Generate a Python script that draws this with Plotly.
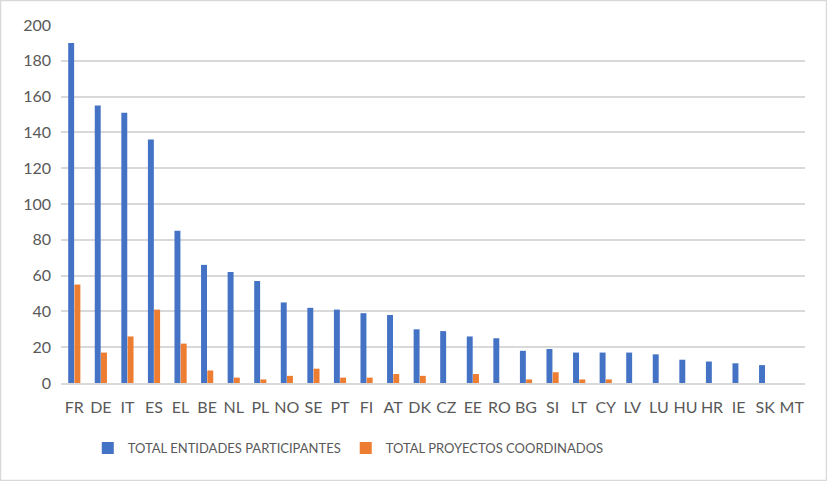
import plotly.graph_objects as go

countries = ["FR", "DE", "IT", "ES", "EL", "BE", "NL", "PL", "NO", "SE", "PT", "FI", "AT", "DK",
             "CZ", "EE", "RO", "BG", "SI", "LT", "CY", "LV", "LU", "HU", "HR", "IE", "SK", "MT"]
entidades = [190, 155, 151, 136, 85, 66, 62, 57, 45, 42, 41, 39, 38, 30,
             29, 26, 25, 18, 19, 17, 17, 17, 16, 13, 12, 11, 10, 0]
proyectos = [55, 17, 26, 41, 22, 7, 3, 2, 4, 8, 3, 3, 5, 4,
             0, 5, 0, 2, 6, 2, 2, 0, 0, 0, 0, 0, 0, 0]

W, H = 827, 481
ml, mr, mt, mb = 61, 22, 25, 98

fig = go.Figure()

fig.add_trace(go.Bar(
    x=countries, y=entidades,
    name="TOTAL ENTIDADES PARTICIPANTES",
    marker=dict(color="#4472C4", line=dict(width=0)),
))
fig.add_trace(go.Bar(
    x=countries, y=proyectos,
    name="TOTAL PROYECTOS COORDINADOS",
    marker=dict(color="#ED7D31", line=dict(width=0)),
))

# chart border, in paper coords
pw, ph = W - ml - mr, H - mt - mb
x0 = (0.5 - ml) / pw
x1 = (W - 0.5 - ml) / pw
y0 = -(H - 0.5 - mt - ph) / ph
y1 = (ph + mt - 0.5) / ph

fig.update_layout(
    width=W, height=H,
    margin=dict(l=ml, r=mr, t=mt, b=mb),
    paper_bgcolor="white",
    plot_bgcolor="white",
    font=dict(family="Lato", size=16, color="#595959"),
    barmode="group",
    bargap=0.53,
    bargroupgap=0.05,
    showlegend=True,
    legend=dict(
        orientation="h", x=0.036, xanchor="left", y=-0.14, yanchor="top",
        font=dict(size=13, color="#595959"),
        itemwidth=30,
    ),
    shapes=[dict(type="rect", xref="paper", yref="paper",
                 x0=x0, x1=x1, y0=y0, y1=y1,
                 line=dict(color="#D9D9D9", width=1.5))],
    xaxis=dict(
        showgrid=False, showline=True, linecolor="#D9D9D9", linewidth=2,
        ticks="", tickfont=dict(size=16), ticklabelstandoff=9,
    ),
    yaxis=dict(
        range=[0, 200], dtick=20, showgrid=True, gridcolor="#D9D9D9", gridwidth=2,
        zeroline=False, ticks="", showline=False, ticklabelstandoff=9,
    ),
)

fig.write_html("out.html", config={"displayModeBar": False},
               post_script="document.body.style.margin='0';")
